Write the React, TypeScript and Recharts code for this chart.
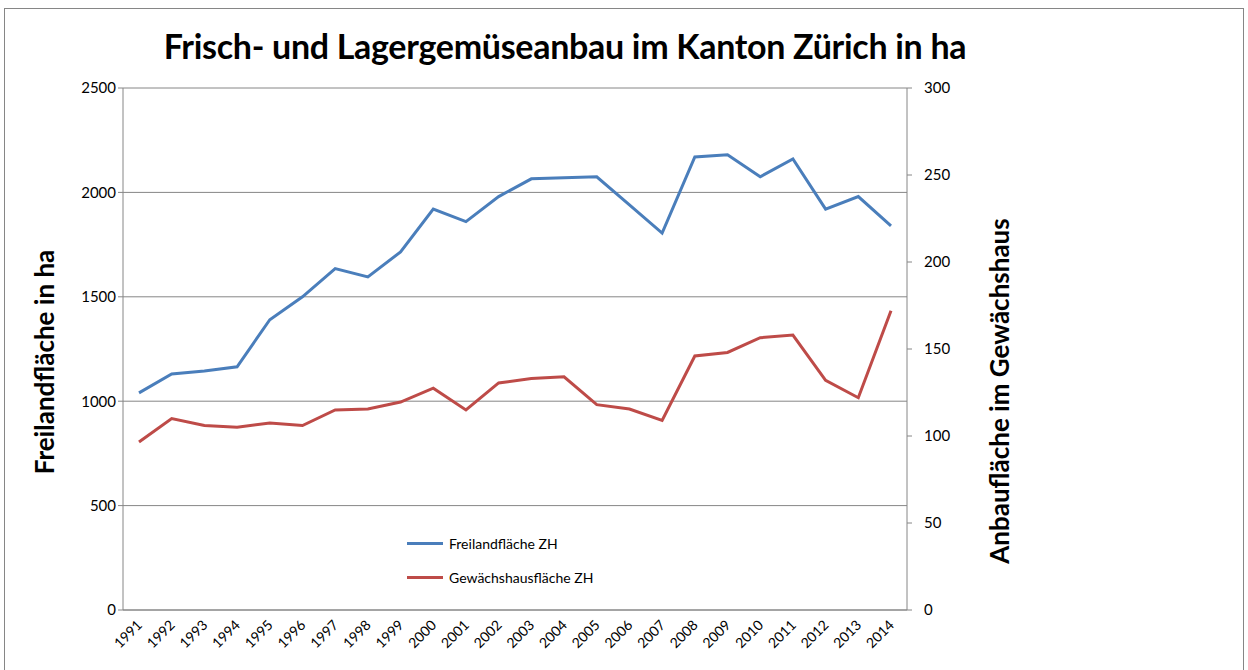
import React from 'react';
import { LineChart, Line, XAxis, YAxis, CartesianGrid } from 'recharts';

// Anbauflächen Gemüse, Kanton Zürich
const years = ['1991', '1992', '1993', '1994', '1995', '1996', '1997', '1998', '1999', '2000', '2001', '2002',
  '2003', '2004', '2005', '2006', '2007', '2008', '2009', '2010', '2011', '2012', '2013', '2014'];
const freiland = [1040, 1130, 1145, 1165, 1390, 1500, 1635, 1595, 1715, 1920, 1860, 1980,
  2065, 2070, 2075, 1940, 1805, 2170, 2180, 2075, 2160, 1920, 1980, 1840];
const gewaechshaus = [96.5, 110, 106, 105, 107.5, 106, 115, 115.5, 119.5, 127.5, 115, 130.5,
  133, 134, 118, 115.5, 109, 146, 148, 156.5, 158, 132, 122, 172];
const leftTicks = [0, 500, 1000, 1500, 2000, 2500];
const rightTicks = [0, 50, 100, 150, 200, 250, 300];

const FONT = 'Lato, "Open Sans", sans-serif';

const data = years.map((y, i) => ({ year: y, frei: freiland[i], gew: gewaechshaus[i] }));

const YearTick = (props: any) => {
  const { x, y, payload } = props;
  return (
    <text x={x + 4} y={y + 8} textAnchor="end" fontSize={14} fontFamily={FONT} fill="#000"
      transform={`rotate(-45, ${x + 4}, ${y + 8})`}>
      {payload.value}
    </text>
  );
};

export default function App() {
  return (
    <div style={{ position: 'absolute', left: 0, top: 0, width: 1248, height: 670, background: '#fff' }}>
      <div style={{ position: 'absolute', left: 4, top: 8, width: 1238, height: 680, border: '1px solid #868686' }} />
      <div style={{ position: 'absolute', left: 0, top: 25, width: 1130, textAlign: 'center',
        fontFamily: FONT, fontWeight: 700, fontSize: 34, letterSpacing: -0.3, color: '#000' }}>
        Frisch- und Lagergemüseanbau im Kanton Zürich in ha
      </div>
      <div style={{ position: 'absolute', left: 44, top: 362, transform: 'translate(-50%, -50%) rotate(-90deg)',
        whiteSpace: 'nowrap', fontFamily: FONT, fontWeight: 700, fontSize: 26, color: '#000' }}>
        Freilandfläche in ha
      </div>
      <div style={{ position: 'absolute', left: 999, top: 391, transform: 'translate(-50%, -50%) rotate(-90deg)',
        whiteSpace: 'nowrap', fontFamily: FONT, fontWeight: 700, fontSize: 26, color: '#000' }}>
        Anbaufläche im Gewächshaus
      </div>
      <LineChart width={1248} height={670} data={data}
        margin={{ top: 88, right: 281, bottom: 0, left: 63 }} style={{ position: 'absolute', left: 0, top: 0 }}>
        <CartesianGrid vertical={false} stroke="#868686" strokeWidth={1} yAxisId="left" />
        <XAxis dataKey="year" tick={<YearTick />} tickLine={false} axisLine={{ stroke: '#868686' }}
          interval={0} height={60} padding={{ left: 16, right: 16 }} />
        <YAxis yAxisId="left" domain={[0, 2500]} ticks={leftTicks} width={60}
          axisLine={{ stroke: '#868686' }} tickLine={{ stroke: '#868686' }} tickSize={5}
          tick={{ fontSize: 15, fontFamily: FONT, fill: '#000' }} />
        <YAxis yAxisId="right" orientation="right" domain={[0, 300]} ticks={rightTicks} width={60}
          axisLine={{ stroke: '#868686' }} tickLine={{ stroke: '#868686' }} tickSize={5}
          tick={{ fontSize: 15, fontFamily: FONT, fill: '#000', dx: 10 }} />
        <Line yAxisId="left" dataKey="frei" name="Freilandfläche ZH" stroke="#4a7ebb" strokeWidth={3}
          dot={false} isAnimationActive={false} />
        <Line yAxisId="right" dataKey="gew" name="Gewächshausfläche ZH" stroke="#be4b48" strokeWidth={3}
          dot={false} isAnimationActive={false} />
      </LineChart>
      <div style={{ position: 'absolute', left: 407, top: 526, fontFamily: FONT, fontSize: 14, color: '#000' }}>
        <div style={{ display: 'flex', alignItems: 'center', height: 34 }}>
          <span style={{ width: 36, height: 3, background: '#4a7ebb', marginRight: 6 }} />
          Freilandfläche ZH
        </div>
        <div style={{ display: 'flex', alignItems: 'center', height: 34 }}>
          <span style={{ width: 36, height: 3, background: '#be4b48', marginRight: 6 }} />
          Gewächshausfläche ZH
        </div>
      </div>
    </div>
  );
}
